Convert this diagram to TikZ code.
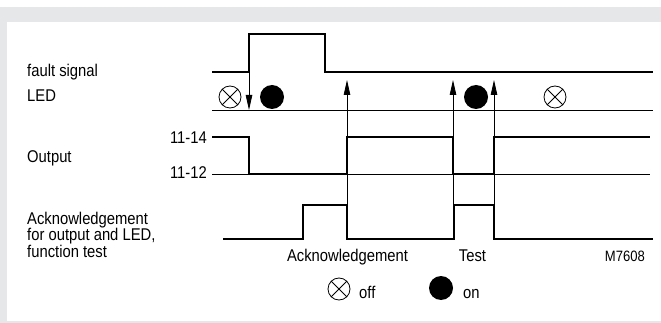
\documentclass[tikz,border=0pt]{standalone}
\usepackage{fontspec}
\setmainfont{Liberation Sans}[FakeStretch=0.87]
\usetikzlibrary{arrows.meta, positioning}
\definecolor{framegray}{HTML}{E6E7E9}

\begin{document}
\begin{tikzpicture}[
        x=1pt, y=-1pt,
        wave/.style={line width=2.4pt},
        thin line/.style={line width=0.8pt},
        sig arrow/.style={thin line, -{Triangle[length=15pt, width=6.5pt]}},
        lamp off/.style={circle, draw, thin line, fill=white, minimum size=22pt, inner sep=0pt,
            path picture={
                \draw[thin line] (path picture bounding box.center) +(45:12pt) -- +(225:12pt);
                \draw[thin line] (path picture bounding box.center) +(135:12pt) -- +(315:12pt);
            }},
        lamp on/.style={circle, fill=black, minimum size=24pt, inner sep=0pt},
        txt/.style={inner sep=0pt, font=\fontsize{17}{14.5}\selectfont},
    ]
    \useasboundingbox (0, 0) rectangle (661, 323);
    % frame
    \fill[framegray] (0, 7) rectangle (661, 323);
    \fill[white] (7, 22) rectangle (661, 321);

    % signal lines
    \draw[wave] (212, 72) -| (249, 34) -| (325, 72) -- (653, 72);
    \draw[thin line] (212, 110) -- (653, 110);
    \draw[thin line] (212, 174) -- (650, 174);
    \draw[wave] (212, 137) -| (249, 174) -| (347, 137) -| (453, 174) -| (494, 137) -- (650, 137);
    \draw[wave] (223, 239) -| (303, 205) -| (347, 239) -| (454, 205) -| (494, 239) -- (653, 239);

    % arrows
    \coordinate (faultRise) at (249, 72);
    \coordinate (ledOn) at (249, 110);
    \coordinate (ackA) at (347, 205);
    \coordinate (ackTipA) at (347, 80);
    \coordinate (testA) at (453, 205);
    \coordinate (testTipA) at (453, 80);
    \coordinate (testB) at (494, 205);
    \coordinate (testTipB) at (494, 80);
    \draw[sig arrow] (faultRise) -- (ledOn);
    \draw[sig arrow] (ackA) -- (ackTipA);
    \draw[sig arrow] (testA) -- (testTipA);
    \draw[sig arrow] (testB) -- (testTipB);

    % LED states
    \node[lamp off] (ledOffA) at (230, 97) {};
    \node[lamp on] (ledOnA) at (272, 97) {};
    \node[lamp on] (ledOnB) at (476, 97) {};
    \node[lamp off] (ledOffB) at (555, 97) {};

    % labels
    \node[txt, anchor=base west] (faultLbl) at (27, 77) {fault signal};
    \node[txt, anchor=base west] (ledLbl) at (27, 101.7) {LED};
    \node[txt, anchor=base west] (outLbl) at (27, 163) {Output};
    \node[txt, anchor=base east] (hiLbl) at (207, 144) {11-14};
    \node[txt, anchor=base east] (loLbl) at (207, 178.3) {11-12};
    \node[txt, anchor=north west, align=left] (ackLbl) at (27, 211.5)
        {Acknowledgement\\for output and LED,\\function test};
    \node[txt, anchor=base] (ackText) at (347.5, 261.7) {Acknowledgement};
    \node[txt, anchor=base] (testText) at (472.5, 261.7) {Test};
    \node[txt, anchor=base east, font=\fontsize{15}{15}\selectfont] (figNo) at (645, 261.7) {M7608};

    % legend
    \node[lamp off] (keyOff) at (339, 289) {};
    \node[txt, anchor=base west] (offLbl) at (359, 298) {off};
    \node[lamp on] (keyOn) at (441, 288) {};
    \node[txt, anchor=base west] (onLbl) at (463, 298) {on};
\end{tikzpicture}
\end{document}
